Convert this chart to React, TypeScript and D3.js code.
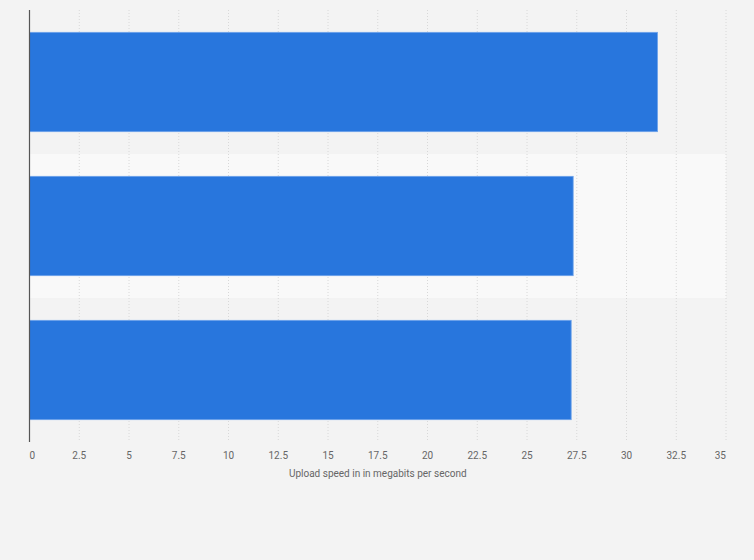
import React, { useEffect, useRef } from "react";
import * as d3 from "d3";

// values (upload speed, Mbps)
const categories = ["A", "B", "C"];
const uploadSpeeds = [31.56, 27.32, 27.22];
const tickValues = [0, 2.5, 5, 7.5, 10, 12.5, 15, 17.5, 20, 22.5, 25, 27.5, 30, 32.5, 35];
const axisTitle = "Upload speed in in megabits per second";

const width = 754;
const height = 560;

export default function App() {
  const svgRef = useRef<SVGSVGElement>(null);

  useEffect(() => {
    const margin = { top: 10, right: 28, bottom: 118, left: 29.5 };
    const svg = d3.select(svgRef.current);
    svg.selectAll("*").remove();

    svg.append("rect").attr("width", width).attr("height", height).attr("fill", "#f3f3f3");

    const x = d3.scaleLinear().domain([0, 35]).range([margin.left, width - margin.right]);
    const y = d3
      .scaleBand()
      .domain(categories)
      .range([margin.top, height - margin.bottom])
      .paddingInner(0.31)
      .paddingOuter(0.155);

    const step = y.step();
    const bandTop = (c: string) => (y(c) as number) - (step - y.bandwidth()) / 2;

    // alternate band
    svg
      .selectAll(".band")
      .data(categories.filter((_, i) => i % 2 === 1))
      .enter()
      .append("rect")
      .attr("x", margin.left)
      .attr("y", (d) => bandTop(d))
      .attr("width", x(35) - margin.left)
      .attr("height", step)
      .attr("fill", "#f9f9f9");

    // grid
    svg
      .selectAll(".grid")
      .data(tickValues.slice(1))
      .enter()
      .append("line")
      .attr("x1", (d) => x(d))
      .attr("x2", (d) => x(d))
      .attr("y1", margin.top)
      .attr("y2", height - margin.bottom)
      .attr("stroke", "#d8d8d8")
      .attr("stroke-width", 1)
      .attr("stroke-dasharray", "1,2");

    // bars
    svg
      .selectAll(".bar")
      .data(uploadSpeeds)
      .enter()
      .append("rect")
      .attr("x", x(0))
      .attr("y", (_, i) => y(categories[i]) as number)
      .attr("width", (d) => x(d) - x(0))
      .attr("height", y.bandwidth())
      .attr("fill", "#2876dd")
      .attr("stroke", "#6ea3ea")
      .attr("stroke-width", 0.8);

    // axis line
    svg
      .append("line")
      .attr("x1", margin.left)
      .attr("x2", margin.left)
      .attr("y1", margin.top)
      .attr("y2", height - margin.bottom)
      .attr("stroke", "#555")
      .attr("stroke-width", 1.2);

    // tick labels
    svg
      .selectAll(".tick")
      .data(tickValues)
      .enter()
      .append("text")
      .attr("x", (d) => x(d))
      .attr("y", 459)
      .attr("text-anchor", (_, i) => (i === 0 ? "start" : i === tickValues.length - 1 ? "end" : "middle"))
      .attr("font-family", "Roboto, 'Liberation Sans', sans-serif")
      .attr("font-size", 10)
      .attr("fill", "#666")
      .text((d) => String(d));

    svg
      .append("text")
      .attr("x", (x(0) + x(35)) / 2)
      .attr("y", 477)
      .attr("text-anchor", "middle")
      .attr("font-family", "Roboto, 'Liberation Sans', sans-serif")
      .attr("font-size", 10)
      .attr("fill", "#666")
      .text(axisTitle);
  }, []);

  return (
    <svg
      ref={svgRef}
      width={width}
      height={height}
      style={{ position: "absolute", left: 0, top: 0, display: "block" }}
    />
  );
}
